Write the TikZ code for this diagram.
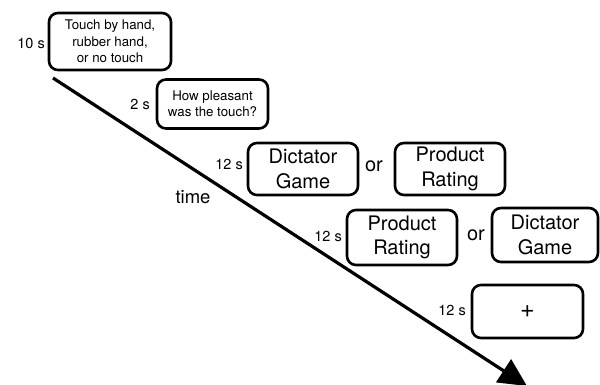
\documentclass[tikz,border=0pt]{standalone}
\usepackage{fontspec}
\setmainfont{TeX Gyre Heros}
\usetikzlibrary{arrows.meta}
\begin{document}
\begin{tikzpicture}[x=1pt,y=-1pt,
  box/.style={draw, line width=2.6pt, rounded corners=9pt, inner sep=0pt, align=center},
  smallbox/.style={box, font=\fontsize{13.3}{16.3}\selectfont},
  bigbox/.style={box, font=\fontsize{20}{24.5}\selectfont},
  dur/.style={anchor=east, inner sep=0pt, font=\fontsize{14.5}{16}\selectfont},
  ortext/.style={inner sep=0pt, font=\fontsize{20}{22}\selectfont}]
\useasboundingbox (0,0) rectangle (600,385);
\node[smallbox, minimum width=122pt, minimum height=57pt] (b1) at (110,41.5) {Touch by hand,\\rubber hand,\\or no touch};
\node[smallbox, minimum width=111pt, minimum height=49pt] (b2) at (212.5,104) {How pleasant\\was the touch?};
\node[bigbox, minimum width=110pt, minimum height=52pt] (b3) at (303,169) {Dictator\\Game};
\node[bigbox, minimum width=110pt, minimum height=52pt] (b4) at (450,169) {Product\\Rating};
\node[bigbox, minimum width=110pt, minimum height=55pt] (b5) at (402,237.5) {Product\\Rating};
\node[bigbox, minimum width=106pt, minimum height=54pt] (b6) at (545,235) {Dictator\\Game};
\node[box, font=\fontsize{25}{25}\selectfont, minimum width=111pt, minimum height=53pt] (b7) at (527.5,311.5) {+};
\node[dur] (d1) at (45,43) {10 s};
\node[dur] (d2) at (150,104) {2 s};
\node[dur] (d3) at (243,164) {12 s};
\node[dur] (d4) at (342,236) {12 s};
\node[dur] (d5) at (466,310) {12 s};
\node[ortext] (o1) at (374,166) {or};
\node[ortext] (o2) at (476,235) {or};
\node[inner sep=0pt, font=\fontsize{18.5}{20}\selectfont] (t) at (193,197) {time};
\coordinate (s) at (53,78);
\coordinate (e) at (527,386);
\draw[line width=3.2pt, -{Triangle[length=28pt,width=27pt]}] (s) -- (e);
\end{tikzpicture}
\end{document}
